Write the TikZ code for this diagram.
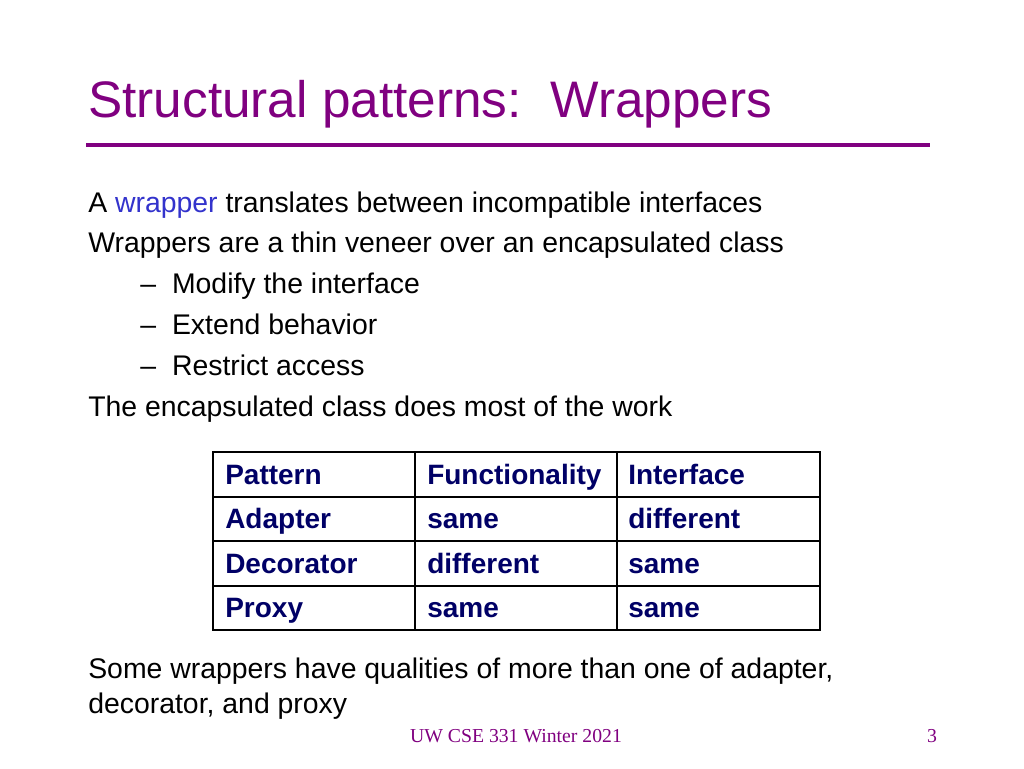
\documentclass[tikz,border=0pt]{standalone}
\usepackage{fontspec}
\setmainfont{Liberation Sans}
\newfontfamily\footfont{Liberation Serif}
\definecolor{titlepurple}{RGB}{128,0,128}
\definecolor{cellnavy}{RGB}{0,0,102}
\definecolor{keyblue}{RGB}{51,51,204}
\tikzset{
  bodytext/.style={anchor=base west, font=\fontsize{21.3}{25}\selectfont, inner sep=0pt},
  celltext/.style={anchor=base west, font=\fontsize{21}{24}\selectfont\bfseries, text=cellnavy, inner sep=0pt},
  footer/.style={anchor=base, font=\footfont\fontsize{14.8}{17}\selectfont, text=titlepurple, inner sep=0pt}
}
\begin{document}
\begin{tikzpicture}[x=0.75pt,y=-0.75pt]
  \useasboundingbox (0,0) rectangle (1024,768);
  %%%%%%%%
  % title
  %%%%%%%%
  \node[anchor=base west, inner sep=0pt, text=titlepurple, font=\fontsize{38.5}{44}\selectfont] (title) at (88,117) {Structural patterns:\ \ Wrappers};
  \draw[titlepurple, line width=3pt] (86,145) -- (930,145);

  %%%%%%%%
  % bullets
  %%%%%%%%
  \node[bodytext] (l1) at (88,212) {A \textcolor{keyblue}{wrapper} translates between incompatible interfaces};
  \node[bodytext] (l2) at (88,252) {Wrappers are a thin veneer over an encapsulated class};
  \foreach \txt [count=\i] in {Modify the interface, Extend behavior, Restrict access}
    \node[bodytext] (s\i) at (140,252+41*\i) {--\hspace{12pt}\txt};
  \node[bodytext] (l3) at (88,416) {The encapsulated class does most of the work};

  %%%%%%%%
  % table
  %%%%%%%%
  \draw[line width=0.8pt] (415,452) -- (415,630);
  \draw[line width=0.8pt] (617,452) -- (617,630);
  \draw[line width=0.8pt] (213,541) -- (820,541);
  \draw[line width=0.8pt] (213,586) -- (820,586);
  \draw[line width=2.2pt] (213,497) -- (820,497);
  \draw[line width=2.2pt] (213,452) rectangle (820,630);
  \foreach \a/\b/\c [count=\r from 0] in {Pattern/Functionality/Interface, Adapter/same/different, Decorator/different/same, Proxy/same/same}{
    \node[celltext] (c\r a) at (225,484+44.5*\r) {\a};
    \node[celltext] (c\r b) at (427,484+44.5*\r) {\b};
    \node[celltext] (c\r c) at (628,484+44.5*\r) {\c};
  }

  %%%%%%%%
  % closing text and footer
  %%%%%%%%
  \node[bodytext] (l4) at (88,678) {Some wrappers have qualities of more than one of adapter,};
  \node[bodytext] (l5) at (88,713) {decorator, and proxy};
  \node[footer] (foot) at (516,742) {UW CSE 331 Winter 2021};
  \node[footer] (page) at (932,742) {3};
\end{tikzpicture}
\end{document}
